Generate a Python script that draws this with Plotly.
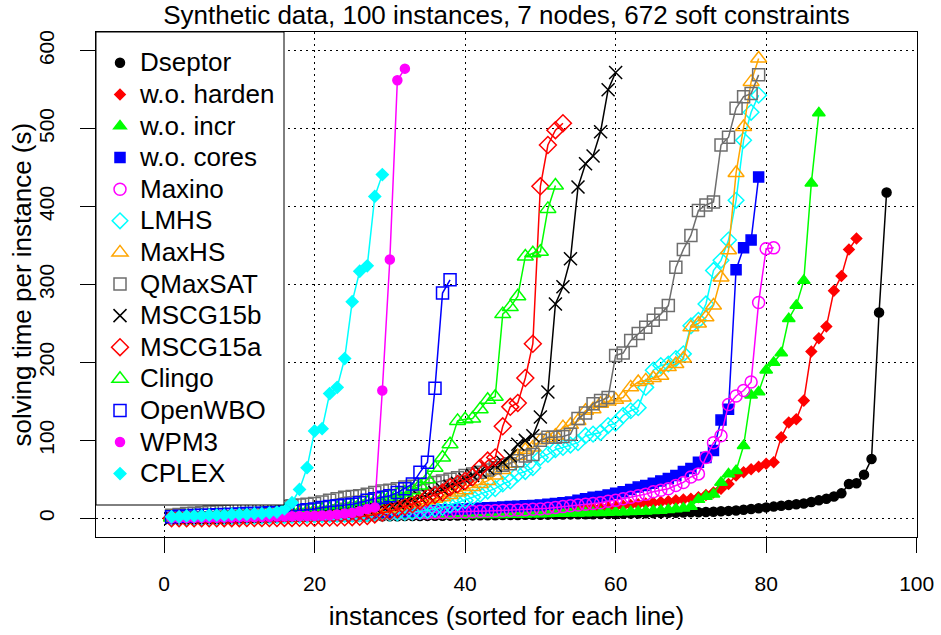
import plotly.graph_objects as go

# ---------------- data (solving time per instance, sorted) ----------------
dseptor = [0.2,0.3,0.4,0.5,0.5,0.6,0.7,0.8,0.9,1.0,
           1.0,1.1,1.2,1.2,1.3,1.4,1.5,1.5,1.6,1.7,
           1.8,1.9,2.0,2.0,2.1,2.2,2.3,2.4,2.5,2.6,
           2.7,2.8,2.9,3.0,3.1,3.2,3.3,3.4,3.5,3.6,
           3.7,3.8,3.9,4.0,4.1,4.2,4.3,4.4,4.5,4.6,
           4.7,4.8,4.9,5.0,5.1,5.2,5.3,5.4,5.5,5.6,
           5.8,6.0,6.2,6.4,6.6,6.8,7.0,7.2,7.4,7.6,
           7.8,8.0,8.5,9.0,9.5,10,11,12,13,14,
           15,16,17,18,19,21,23,25,28,32,
           44,45,56,76,264,418]
wo_harden = [0.5,0.6,0.7,0.8,0.9,1.0,1.1,1.2,1.3,1.4,
             1.5,1.6,1.7,1.8,1.9,2.0,2.1,2.2,2.4,2.6,
             2.8,3.0,3.2,3.4,3.6,3.8,4.0,4.2,4.4,4.6,
             4.8,5.0,5.2,5.4,5.6,5.8,6.0,6.2,6.5,6.8,
             7.1,7.4,7.7,8.0,8.3,8.6,9.0,9.4,9.8,10.2,
             10.6,11,11.5,12,12.5,13,13.5,14,14.5,15,
             16,17,18,19,20,21,22,23,24,25,
             27,30,33,38,44,55,59,63,66,70,
             72,104,123,127,151,214,231,246,292,311,345,359]
wo_incr = [0.3,0.4,0.5,0.6,0.7,0.8,0.9,1.0,1.1,1.2,
           1.3,1.4,1.5,1.6,1.7,1.8,1.9,2.0,2.1,2.2,
           2.3,2.4,2.5,2.6,2.7,2.8,2.9,3.0,3.1,3.2,
           3.3,3.4,3.5,3.6,3.7,3.8,3.9,4.0,4.1,4.2,
           4.3,4.4,4.5,4.6,4.7,4.8,5.0,5.2,5.4,5.6,
           5.8,6.0,6.2,6.4,6.6,6.8,7.0,7.2,7.5,7.8,
           8.1,8.4,8.8,9.2,9.6,10,11,12,13,15,
           24,28,31,46,57,61,93,158,162,190,
           200,212,256,273,305,430,520]
wo_cores = [1.0,1.2,1.4,1.6,1.8,2.0,2.2,2.4,2.6,2.8,
            3.0,3.2,3.4,3.6,3.8,4.0,4.2,4.4,4.6,4.8,
            5.0,5.3,5.6,5.9,6.2,6.5,6.8,7.1,7.4,7.7,
            8.0,8.4,8.8,9.2,9.6,10,10.5,11,11.5,12,
            12.5,13,13.5,14,14.5,15,15.5,16,16.5,17,
            18,19,20,21,23,25,27,28,30,32,
            34,37,40,42,45,48,51,55,60,64,
            72,78,87,126,140,319,347,357,438]
maxino = [0.3,0.5,0.7,0.9,1.1,1.3,1.5,1.7,1.9,2.1,
          2.3,2.5,2.7,2.9,3.1,3.3,3.5,3.7,3.9,4.1,
          4.3,4.5,4.7,4.9,5.1,5.3,5.5,5.7,5.9,6.1,
          6.3,6.5,6.7,6.9,7.1,7.3,7.5,7.8,8.1,8.4,
          8.7,9.0,9.3,9.6,10,10.4,10.8,11,11.5,12,
          13,14,15,16,17,18,19,20,22,23,
          25,27,29,31,34,36,38,42,46,53,
          57,78,97,106,146,157,164,175,277,346,347]
lmhs = [0.5,0.7,0.9,1.1,1.3,1.5,1.7,1.9,2.1,2.3,
        2.5,2.7,2.9,3.1,3.3,3.5,3.7,3.9,4.1,4.3,
        4.5,4.7,4.9,5.1,5.3,5.5,5.8,6.1,6.4,6.7,
        7.0,7.5,8.0,9.0,10,12,14,17,20,23,
        27,31,35,38,44,48,57,60,65,78,
        82,88,91,94,97,106,108,110,119,122,
        132,138,142,168,190,196,198,205,211,247,
        254,275,318,331,357,408,485,521,543]
maxhs = [1.0,1.2,1.4,1.6,1.8,2.0,2.2,2.4,2.6,2.8,
         3.0,3.3,3.6,3.9,4.2,4.5,4.8,5.1,5.4,5.7,
         6.0,6.5,7,7.5,8,9,10,11,12,13,
         15,17,19,21,23,25,27,30,33,36,
         40,44,48,55,62,70,80,88,91,100,
         103,106,117,120,125,138,140,147,150,152,
         155,168,175,177,180,183,194,198,205,245,
         250,258,273,309,344,443,502,560,590]
qmaxsat = [4,5,6,6.5,7,8,8.5,9,10,10.5,
           11,12,12.5,13,14,15,16,17,18,19,
           21,23,25,27,28,29,31,33,35,36,
           38,40,41,43,44,46,48,50,52,55,
           57,59,62,65,68,70,74,80,82,100,
           104,104,105,108,128,135,147,151,155,209,
           212,228,237,245,254,262,273,322,345,363,
           395,402,406,479,489,526,541,545,569]
mscg15b = [0.2,0.3,0.5,0.7,0.9,1.1,1.3,1.5,1.7,2.0,
           2.3,2.6,2.9,3.2,3.5,3.8,4.2,4.6,5.0,5.5,
           6,7,8,9,10,11,12,14,16,18,
           20,22,24,27,30,33,37,41,45,50,
           55,60,64,68,72,80,95,100,106,130,
           162,275,297,333,425,455,465,496,550,572]
mscg15a = [0,0,0,0,0.1,0.1,0.1,0.2,0.2,0.2,
           0.3,0.3,0.3,0.4,0.4,0.5,0.5,0.6,0.6,0.7,
           0.8,0.9,1.0,1.2,1.5,2,3,5,7,9,
           12,15,18,22,27,30,33,40,44,48,
           53,65,74,78,118,143,148,180,224,426,
           479,498,507]
clingo = [1,1.5,2,2.5,3,3,3.5,4,4,4.5,
          5,5,5.5,6,6.5,7,7.5,8,9,10,
          11,12,13,14,16,18,20,22,25,28,
          31,33,36,42,50,65,78,95,125,127,
          128,140,152,156,262,271,285,336,340,342,
          397,427]
openwbo = [2,2.5,3,3.5,4,4,4.5,5,5,5.5,
           6,6,6.5,7,7.5,8,9,10,11,12,
           14,15,16,17,18,20,23,25,27,29,
           33,38,44,59,72,167,289,306]
wpm3 = [0.2,0.3,0.4,0.5,0.6,0.7,0.8,0.9,1.0,1.2,
        1.4,1.6,1.8,2.0,2.2,2.4,2.6,2.8,3.0,3.3,
        3.6,4.0,5.0,6.0,7.0,9.0,12,14,164,332,
        562,577]
cplex = [2,2,3,3,3,4,4,4,5,5,
         5,6,6,7,8,12,20,37,65,112,
         115,160,168,205,278,317,324,413,441]

names = ["Dseptor", "w.o. harden", "w.o. incr", "w.o. cores", "Maxino", "LMHS",
         "MaxHS", "QMaxSAT", "MSCG15b", "MSCG15a", "Clingo", "OpenWBO", "WPM3", "CPLEX"]
series = [dseptor, wo_harden, wo_incr, wo_cores, maxino, lmhs,
          maxhs, qmaxsat, mscg15b, mscg15a, clingo, openwbo, wpm3, cplex]
colors = ["#000000", "#FF0000", "#00FF00", "#0000FF", "#FF00FF", "#00FFFF",
          "#FFA500", "#6E6E6E", "#000000", "#FF0000", "#00FF00", "#0000FF", "#FF00FF", "#00FFFF"]
symbols = ["circle", "diamond", "triangle-up", "square", "circle-open", "diamond-open",
           "triangle-up-open", "square-open", "x-thin-open", "diamond-open", "triangle-up-open",
           "square-open", "circle", "diamond"]
sizes = [9, 8, 11, 10, 12, 12, 14, 12, 13, 13, 14, 12, 9, 9]

x_ticks = [0, 20, 40, 60, 80, 100]
y_ticks = [0, 100, 200, 300, 400, 500, 600]

FONT = "Liberation Sans, Arial, sans-serif"

fig = go.Figure()
for nm, ys, c, s, sz in zip(names, series, colors, symbols, sizes):
    fig.add_trace(go.Scatter(
        x=list(range(1, len(ys) + 1)), y=ys, mode="lines+markers", name=nm,
        line=dict(color=c, width=1.5),
        marker=dict(symbol=s, size=sz, color=c, line=dict(color=c, width=1.5)),
        showlegend=False, hoverinfo="skip"))
# legend-only entries (symbols only, as in the original)
for nm, c, s, sz in zip(names, colors, symbols, sizes):
    fig.add_trace(go.Scatter(
        x=[None], y=[None], mode="markers",
        name='<span style="font-size:26px">' + nm + '</span>',
        marker=dict(symbol=s, size=sz, color=c, line=dict(color=c, width=1.5)),
        showlegend=True))

W, H = 941, 635
L, R, T, B = 96, 24, 32, 98
ph = H - T - B
pw = W - L - R

fig.update_layout(
    width=W, height=H,
    margin=dict(l=L, r=R, t=T, b=B, autoexpand=False),
    paper_bgcolor="white", plot_bgcolor="white",
    font=dict(family=FONT, color="black"),
    title=dict(text="Synthetic data, 100 instances, 7 nodes, 672 soft constraints",
               x=0.5, xref="paper", xanchor="center",
               y=1 - 15 / H, yref="container", yanchor="middle",
               font=dict(size=26, family=FONT, color="black")),
    showlegend=True,
    legend=dict(x=4 / pw, xanchor="left", y=1 - 10 / ph, yanchor="top",
                bgcolor="rgba(0,0,0,0)", borderwidth=0,
                font=dict(size=22, family=FONT, color="black"),
                itemsizing="trace", tracegroupgap=0),
    shapes=[dict(type="rect", xref="paper", yref="paper",
                 x0=0, x1=188 / pw, y0=1 - 473 / ph, y1=1,
                 fillcolor="white", line=dict(color="black", width=1), layer="above")],
    annotations=[dict(text="solving time per instance (s)", textangle=-90,
                      xref="paper", yref="paper", x=-75 / pw, y=0.5,
                      xanchor="center", yanchor="middle", showarrow=False,
                      font=dict(size=26, family=FONT, color="black"))],
)

fig.update_xaxes(
    range=[-9.04, 100.04], tickvals=x_ticks, ticktext=[str(v) for v in x_ticks],
    ticks="outside", ticklen=15, tickwidth=1, tickcolor="black",
    tickfont=dict(size=21, family=FONT, color="black"), ticklabelstandoff=13,
    showline=True, linecolor="black", linewidth=1, mirror=True, automargin=False,
    showgrid=True, gridcolor="black", gridwidth=1, griddash="2px,4px", zeroline=False,
    title=dict(text="instances (sorted for each line)", standoff=12,
               font=dict(size=26, family=FONT, color="black")))
fig.update_yaxes(
    range=[-24, 624], tickvals=y_ticks, ticktext=[str(v) for v in y_ticks],
    ticks="outside", ticklen=15, tickwidth=1, tickcolor="black", tickangle=-90,
    tickfont=dict(size=21, family=FONT, color="black"), ticklabelstandoff=18,
    showline=True, linecolor="black", linewidth=1, mirror=True, automargin=False,
    showgrid=True, gridcolor="black", gridwidth=1, griddash="2px,4px", zeroline=False)

fig.write_html("out.html", config={"displayModeBar": False},
               post_script="document.body.style.margin='0';")
